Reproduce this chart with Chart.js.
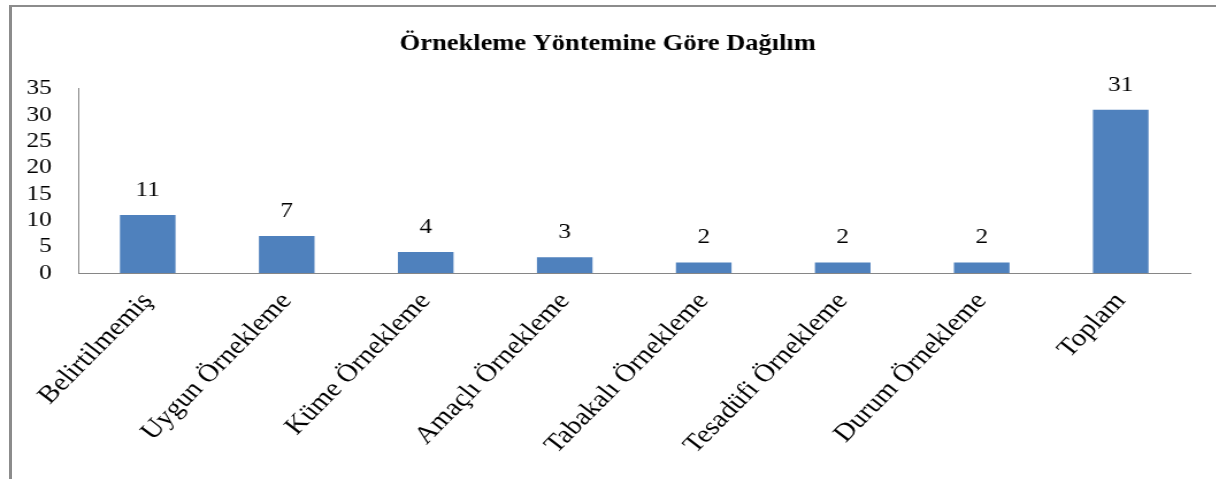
<!DOCTYPE html>
<html>
<head>
<meta charset="utf-8">
<script src="https://cdn.jsdelivr.net/npm/chart.js@4"></script>
<style>
  html, body { margin: 0; padding: 0; background: #fff; overflow: hidden; }
  #frame {
    position: absolute; left: 9px; top: 5px; width: 1300px; height: 600px;
    border-top: 2px solid #8c8c8c; border-left: 3px solid #8c8c8c;
  }
  #methodChart {
    position: absolute; left: 0; top: 0;
    transform: scaleX(1.15); transform-origin: 0 0;
  }
</style>
</head>
<body>
<div id="frame"></div>
<canvas id="methodChart" width="1057" height="479"></canvas>
<script>
// Örnekleme yöntemine göre dağılım

const categories = [
  "Belirtilmemiş", "Uygun Örnekleme", "Küme Örnekleme", "Amaçlı Örnekleme",
  "Tabakalı Örnekleme", "Tesadüfi Örnekleme", "Durum Örnekleme", "Toplam"
];
const counts = [11, 7, 4, 3, 2, 2, 2, 31];
const yTicks = [0, 5, 10, 15, 20, 25, 30, 35];

const serif = "'Liberation Serif', 'Times New Roman', serif";

// value labels over bars
const barLabels = {
  id: "barLabels",
  afterDatasetsDraw(chart) {
    const ctx = chart.ctx;
    const meta = chart.getDatasetMeta(0);
    ctx.save();
    ctx.font = "22px " + serif;
    ctx.fillStyle = "#000";
    ctx.textAlign = "center";
    ctx.textBaseline = "alphabetic";
    meta.data.forEach((bar, i) => {
      ctx.fillText(String(counts[i]), bar.x, bar.y - 19);
    });
    ctx.restore();
  }
};

new Chart(document.getElementById("methodChart"), {
  type: "bar",
  data: {
    labels: categories,
    datasets: [{
      data: counts,
      backgroundColor: "#4F81BD",
      borderWidth: 0,
      barPercentage: 0.4,
      categoryPercentage: 1
    }]
  },
  options: {
    responsive: false,
    animation: false,
    layout: { padding: { left: 22, right: 22, top: 0, bottom: 0 } },
    plugins: {
      legend: { display: false },
      tooltip: { enabled: false },
      title: {
        display: true,
        text: "Örnekleme Yöntemine Göre Dağılım",
        color: "#000",
        font: { family: serif, size: 23, weight: "bold" },
        padding: { top: 30, bottom: 31 }
      }
    },
    scales: {
      x: {
        grid: { display: false, drawTicks: false },
        border: { color: "#868686", width: 1 },
        ticks: {
          color: "#000",
          font: { family: serif, size: 25 },
          autoSkip: false,
          minRotation: 49,
          maxRotation: 49,
          padding: 14
        },
        afterFit(scale) { scale.height = 206; }
      },
      y: {
        min: 0,
        max: 35,
        grid: { display: false, drawTicks: false },
        border: { color: "#868686", width: 1 },
        afterBuildTicks(scale) { scale.ticks = yTicks.map(v => ({ value: v })); },
        ticks: {
          color: "#000",
          font: { family: serif, size: 22 },
          autoSkip: false,
          padding: 23
        },
        afterFit(scale) { scale.width = 46; }
      }
    }
  },
  plugins: [barLabels]
});
</script>
</body>
</html>
